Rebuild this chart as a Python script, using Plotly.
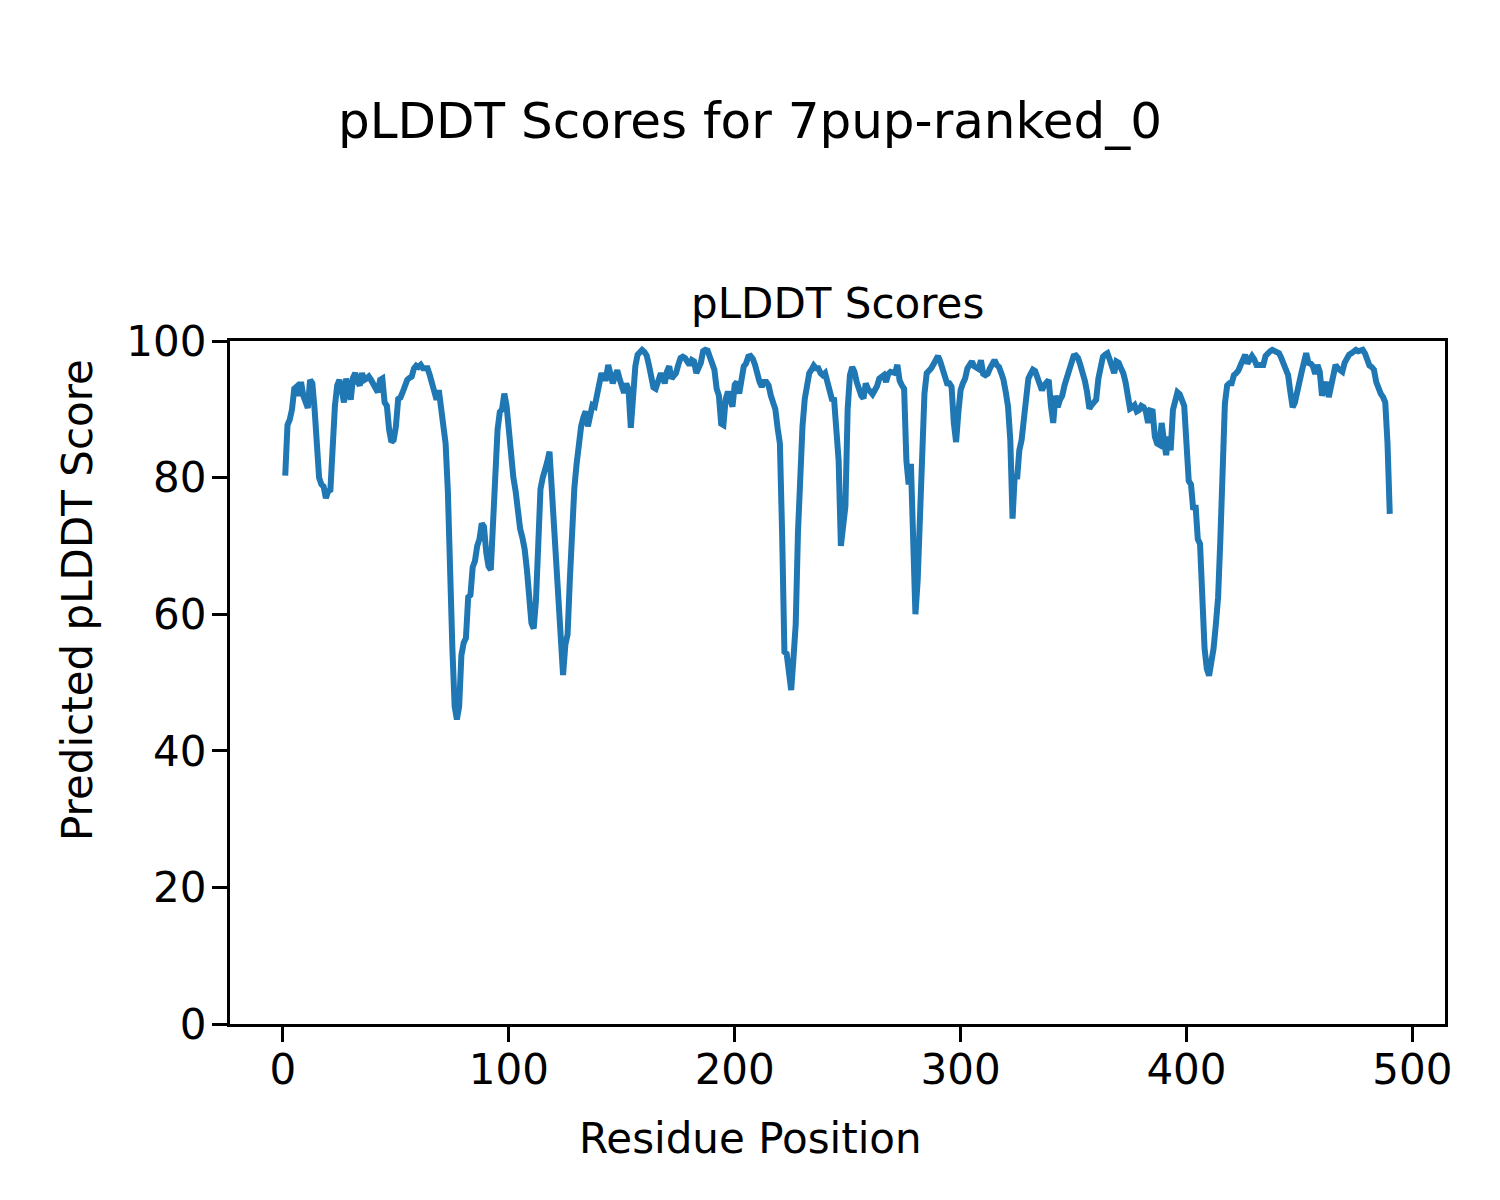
import plotly.graph_objects as go

# pLDDT values per residue (1..490)
plddt = [
    80.3, 87.7, 88.5, 90.0, 93.0, 93.3, 92.0, 94.0, 92.0, 91.0,
    90.2, 94.3, 93.8, 90.0, 86.0, 80.0, 79.0, 78.7, 77.0, 78.0,
    78.2, 86.5, 90.5, 93.5, 94.3, 92.8, 91.0, 94.5, 93.0, 91.4,
    94.6, 95.3, 94.0, 93.5, 95.3, 94.3, 94.5, 94.8, 94.3, 93.8,
    93.0, 92.5, 94.3, 94.5, 91.0, 90.5, 87.0, 85.2, 85.5, 87.5,
    91.5, 91.7, 92.5, 93.8, 94.3, 94.6, 94.8, 96.0, 96.4, 96.2,
    96.5, 96.0, 96.0, 96.0, 95.0, 93.5, 92.5, 91.4, 92.8, 90.0,
    87.5, 85.0, 78.0, 64.0, 55.0, 46.5, 44.6, 46.5, 54.0, 55.8,
    56.5, 62.5, 62.8, 66.9, 67.8, 70.0, 71.0, 73.3, 72.8, 69.0,
    67.0, 66.5, 74.0, 82.0, 87.0, 89.6, 90.0, 92.3, 90.5, 87.0,
    83.0, 80.0, 78.0, 75.0, 72.5, 71.2, 69.5, 66.5, 63.0, 58.7,
    57.9, 62.0, 70.0, 78.3, 80.0, 81.0, 82.3, 83.8, 78.0, 71.0,
    65.0, 61.0, 57.0, 51.1, 55.5, 57.0, 65.0, 74.0, 78.5, 82.0,
    86.0, 87.5, 88.8, 89.7, 87.5, 89.0, 90.6, 90.4, 92.5, 94.5,
    95.3, 94.5, 94.5, 96.5, 95.0, 93.8, 94.8, 95.7, 94.5, 93.5,
    92.4, 93.8, 92.8, 87.3, 92.0, 96.3, 98.0, 98.5, 98.7, 98.4,
    97.9, 96.5, 95.0, 93.2, 93.0, 93.8, 95.0, 95.0, 93.8, 95.5,
    96.3, 94.5, 95.0, 95.3, 96.5, 97.5, 97.7, 97.5, 97.0, 96.5,
    97.2, 97.0, 95.3, 96.0, 96.8, 98.5, 98.7, 98.6, 97.8, 97.0,
    95.8, 93.0, 92.0, 87.9, 87.7, 91.5, 92.6, 91.5, 90.4, 93.6,
    94.0, 92.3, 95.3, 96.3, 96.7, 97.7, 97.8, 97.4, 96.5, 95.0,
    94.0, 93.3, 94.0, 94.0, 93.5, 92.0, 91.2, 90.0, 87.2, 85.0,
    71.5, 54.5, 54.2, 51.0, 48.9, 53.5, 58.5, 72.0, 82.0, 87.5,
    91.5, 93.8, 95.3, 95.8, 96.4, 96.0, 96.0, 95.3, 95.0, 95.3,
    94.0, 92.0, 91.5, 91.4, 85.0, 82.5, 70.0, 72.8, 75.8, 90.0,
    95.0, 96.2, 95.5, 94.0, 92.8, 92.0, 91.6, 93.8, 93.0, 92.5,
    92.2, 92.8, 93.4, 94.5, 94.9, 95.0, 94.0, 95.2, 95.5, 95.4,
    95.3, 96.5, 94.2, 93.5, 93.0, 82.5, 79.0, 82.0, 68.0, 60.0,
    65.0, 75.0, 84.0, 92.3, 95.3, 95.6, 96.0, 96.6, 97.5, 97.8,
    97.0, 96.0, 95.3, 93.8, 93.8, 93.3, 88.0, 85.2, 89.5, 92.8,
    93.8, 94.5, 96.0, 96.5, 97.0, 96.3, 96.0, 95.9, 97.2, 95.2,
    95.0, 95.2, 96.0, 96.7, 97.2, 96.5, 96.2, 95.3, 94.3, 92.5,
    90.4, 85.5, 74.0, 80.5, 79.8, 84.0, 85.5, 88.5, 92.3, 94.5,
    95.2, 95.8, 95.6, 94.8, 94.0, 92.8, 93.5, 94.0, 94.3, 90.5,
    88.0, 92.0, 90.3, 91.4, 92.0, 93.5, 94.5, 95.7, 97.0, 97.8,
    97.9, 97.5, 96.5, 95.5, 94.2, 92.5, 90.1, 90.6, 91.0, 91.4,
    94.5, 96.5, 97.7, 98.0, 98.2, 97.3, 96.0, 95.3, 97.0, 96.8,
    96.0, 95.3, 94.0, 91.5, 90.1, 90.3, 90.6, 89.7, 89.9, 90.5,
    90.3, 89.7, 88.0, 89.8, 89.7, 86.0, 85.0, 84.8, 88.0, 85.5,
    83.3, 86.0, 84.0, 89.9, 91.8, 92.5, 92.2, 91.5, 90.5, 85.0,
    79.5, 79.0, 75.3, 76.0, 71.0, 70.3, 62.0, 55.0, 52.0, 51.0,
    53.0, 55.0, 58.5, 62.5, 71.0, 83.5, 90.8, 93.5, 93.8, 93.8,
    95.0, 95.3, 95.7, 96.5, 97.5, 98.0, 96.7, 97.5, 97.8, 97.3,
    96.5, 96.5, 96.5, 96.5, 97.8, 98.3, 98.5, 98.7, 98.6, 98.5,
    98.2, 97.5, 96.8, 95.7, 95.0, 92.5, 90.3, 91.0, 92.2, 94.0,
    95.5, 96.7, 98.2, 96.8, 96.7, 96.3, 95.2, 96.5, 95.5, 92.0,
    93.0, 94.0, 91.8, 93.5, 95.5, 96.5, 96.0, 95.8, 95.5, 96.8,
    97.5, 98.0, 98.2, 98.5, 98.7, 98.5, 98.6, 98.7, 98.2, 97.2,
    96.4, 96.2, 95.8, 94.0, 92.8, 92.3, 91.8, 91.0, 85.0, 74.7,
]
residues = list(range(1, len(plddt) + 1))

x_ticks = [0, 100, 200, 300, 400, 500]
y_ticks = [0, 20, 40, 60, 80, 100]

suptitle = "pLDDT Scores for 7pup-ranked_0"
subtitle = "pLDDT Scores"
xlabel = "Residue Position"
ylabel = "Predicted pLDDT Score"

W, H = 1500, 1200
L, R, T, B = 230, 1445, 341, 1024  # plot area in pixels


def px(xp):
    return (xp - L) / (R - L)


def py(yp):
    return (B - yp) / (B - T)


FONT = "DejaVu Sans"
fig = go.Figure()
fig.add_trace(go.Scatter(
    x=residues, y=plddt, mode="lines",
    line=dict(color="#1f77b4", width=6),
    showlegend=False,
))

n = len(plddt)
pad = 0.05 * (n - 1)
fig.update_layout(
    width=W, height=H,
    margin=dict(l=L, r=W - R, t=T, b=H - B, autoexpand=False),
    paper_bgcolor="white", plot_bgcolor="white",
    font=dict(family=FONT, size=42, color="black"),
    title=dict(text=suptitle, x=0.5, xanchor="center", xref="container",
               y=1 - 120 / H, yanchor="middle", yref="container",
               font=dict(family=FONT, size=50, color="black")),
    xaxis=dict(range=[1 - pad, n + pad], tickvals=x_ticks,
               ticks="outside", ticklen=15, tickwidth=3.3, tickcolor="black",
               showline=True, linecolor="black", linewidth=3.3, mirror=True,
               showgrid=False, zeroline=False, ticklabelstandoff=-9,
               tickfont=dict(family=FONT, size=42, color="black")),
    yaxis=dict(range=[0, 100], tickvals=y_ticks,
               ticks="outside", ticklen=15, tickwidth=3.3, tickcolor="black",
               showline=True, linecolor="black", linewidth=3.3, mirror=True,
               showgrid=False, zeroline=False, ticklabelstandoff=-3,
               tickfont=dict(family=FONT, size=42, color="black")),
)
fig.add_annotation(text=subtitle, xref="paper", yref="paper",
                   x=0.5, y=py(303), xanchor="center", yanchor="middle",
                   showarrow=False, font=dict(family=FONT, size=42, color="black"))
fig.add_annotation(text=xlabel, xref="paper", yref="paper",
                   x=px(750), y=py(1138), xanchor="center", yanchor="middle",
                   showarrow=False, font=dict(family=FONT, size=42, color="black"))
fig.add_annotation(text=ylabel, xref="paper", yref="paper",
                   x=px(77), y=py(600), xanchor="center", yanchor="middle",
                   textangle=-90, showarrow=False,
                   font=dict(family=FONT, size=42, color="black"))

fig.write_html("out.html", config={"displayModeBar": False},
               post_script="document.body.style.margin='0';")
